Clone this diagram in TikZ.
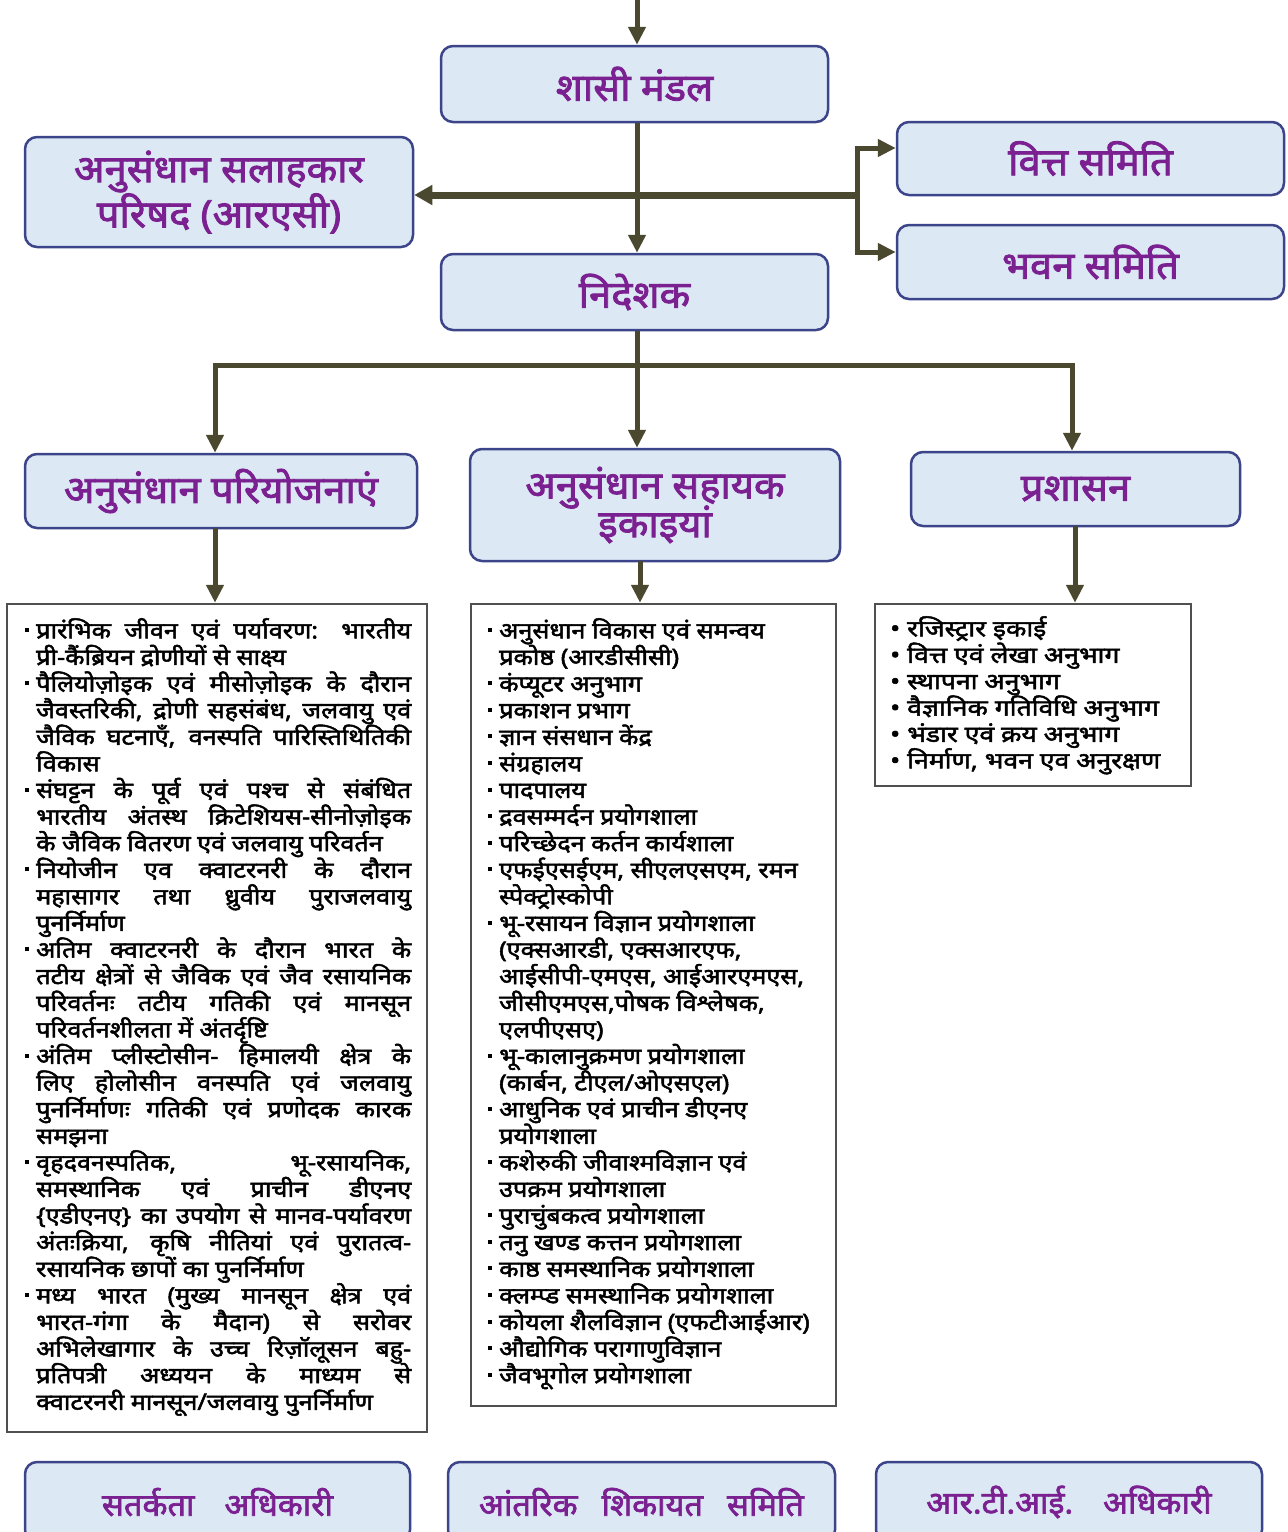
\documentclass[tikz,border=0pt]{standalone}
\usepackage{fontspec}
\setmainfont{Noto Sans}
\newfontfamily\devh[Script=Devanagari,FakeBold=2.2,FakeStretch=1.05]{Noto Sans}
\newfontfamily\devl[Script=Devanagari,FakeBold=2.2,FakeStretch=1.12]{Noto Sans}
\newfontfamily\devr[Script=Devanagari,FakeBold=2.2,FakeStretch=1.18]{Noto Sans}
\usetikzlibrary{arrows.meta}
\definecolor{boxfill}{HTML}{DCE8F4}
\definecolor{boxline}{HTML}{3C4589}
\definecolor{headtxt}{HTML}{7B2090}
\definecolor{arrcol}{HTML}{4A4930}
\definecolor{listline}{HTML}{505050}
\newcommand{\itm}[1]{\par\noindent\hangindent=11pt\hangafter=1\makebox[11pt][l]{\rule[0.28em]{4pt}{4pt}}#1}
\newcommand{\ritm}[1]{\par\noindent\makebox[17pt][l]{•}#1}
\begin{document}
\begin{tikzpicture}[x=1pt,y=-1pt,
  hbox/.style={draw=boxline,line width=2.5pt,fill=boxfill,rounded corners=12pt,
    font=\devh\fontsize{38}{40}\selectfont,text=headtxt,align=center,inner sep=0pt},
  bbox/.style={hbox,font=\devh\fontsize{31}{36}\selectfont},
  lbox/.style={draw=listline,line width=2.5pt,fill=white,inner sep=0pt},
  conn/.style={draw=arrcol,line width=5pt},
  arr/.style={conn,-{Triangle[length=18pt,width=17pt]}},
  ltext/.style={anchor=north west,inner sep=0pt,text=black}
]
\useasboundingbox (0,0) rectangle (1288,1532);
\clip (0,0) rectangle (1288,1532);
\fill[white] (0,0) rectangle (1288,1532);

% header boxes
\node[hbox,minimum width=387pt,minimum height=76pt] (shasi) at (634.5,84) {शासी मंडल};
\node[hbox,minimum width=388pt,minimum height=110pt] (rac) at (219,192) {अनुसंधान सलाहकार\\परिषद (आरएसी)};
\node[hbox,minimum width=387pt,minimum height=73pt] (vitt) at (1090.5,158.5) {वित्त समिति};
\node[hbox,minimum width=387pt,minimum height=74pt] (bhavan) at (1090.5,262) {भवन समिति};
\node[hbox,minimum width=387pt,minimum height=76pt] (nid) at (634.5,292) {निदेशक};

\node[hbox,minimum width=392pt,minimum height=74pt] (proj) at (221,491) {अनुसंधान परियोजनाएं};
\node[hbox,minimum width=370pt,minimum height=112pt] (sah) at (655,505) {अनुसंधान सहायक\\[-4pt]इकाइयां};
\node[hbox,minimum width=329pt,minimum height=74pt] (pras) at (1075.5,489) {प्रशासन};

% bottom boxes
\node[bbox,minimum width=385pt,minimum height=80pt] (sat) at (217.5,1502) {सतर्कता\hspace{30pt}अधिकारी};
\node[bbox,minimum width=387pt,minimum height=80pt] (ant) at (641.5,1502) {आंतरिक\hspace{24pt}शिकायत\hspace{24pt}समिति};
\node[bbox,minimum width=386pt,minimum height=80pt] (rti) at (1069,1502) {आर.टी.आई.\hspace{30pt}अधिकारी};

% list boxes
\node[lbox,minimum width=420pt,minimum height=828pt] (lbl) at (217,1018) {};
\node[lbox,minimum width=365pt,minimum height=802pt] (lbm) at (653.5,1005) {};
\node[lbox,minimum width=316pt,minimum height=182pt] (lbr) at (1033,695) {};

% connectors top
\coordinate (top) at (637,0);
\draw[arr] (top) -- (top |- shasi.north);
\draw[arr] (top |- shasi.south) -- (top |- nid.north);
\coordinate (j) at (857,195);
\draw[conn,line width=7pt,-{Triangle[length=18pt,width=19pt]}] (j) -- (j -| rac.east);
\coordinate (v1) at (857,148);
\coordinate (v2) at (857,252);
\draw[conn] (v1) -- (v2);
\draw[arr] ([xshift=-2.5pt]v1) -- (v1 -| vitt.west);
\draw[arr] ([xshift=-2.5pt]v2) -- (v2 -| bhavan.west);

% connectors director
\coordinate (bj) at (637,365);
\coordinate (bl) at (215,365);
\coordinate (br) at (1072,365);
\draw[conn] (top |- nid.south) -- (bj);
\draw[conn] ([xshift=-2.5pt]bl) -- ([xshift=2.5pt]br);
\draw[arr] (bl) -- (bl |- proj.north);
\draw[arr] (bj) -- (bj |- sah.north);
\draw[arr] (br) -- (br |- pras.north);

% to lists
\coordinate (d1) at (215,528);
\coordinate (d2) at (640,561);
\coordinate (d3) at (1075,526);
\draw[arr] (d1) -- (d1 |- lbl.north);
\draw[arr] (d2) -- (d2 |- lbm.north);
\draw[arr] (d3) -- (d3 |- lbr.north);

% left list text
\node[ltext] (tl) at (25,618) {\parbox{386pt}{\devl\fontsize{22.5}{26.6}\selectfont\lineskiplimit=-100pt\sloppy
\itm{प्रारंभिक जीवन एवं पर्यावरण: भारतीय\linebreak प्री-कैंब्रियन द्रोणीयों से साक्ष्य}
\itm{पैलियोज़ोइक एवं मीसोज़ोइक के दौरान\linebreak जैवस्तरिकी, द्रोणी सहसंबंध, जलवायु एवं\linebreak जैविक घटनाएँ, वनस्पति पारिस्तिथितिकी\linebreak विकास}
\itm{संघट्टन के पूर्व एवं पश्च से संबंधित\linebreak भारतीय अंतस्थ क्रिटेशियस-सीनोज़ोइक\linebreak के जैविक वितरण एवं जलवायु परिवर्तन}
\itm{नियोजीन एव क्वाटरनरी के दौरान\linebreak महासागर तथा ध्रुवीय पुराजलवायु\linebreak पुनर्निर्माण}
\itm{अतिम क्वाटरनरी के दौरान भारत के\linebreak तटीय क्षेत्रों से जैविक एवं जैव रसायनिक\linebreak परिवर्तनः तटीय गतिकी एवं मानसून\linebreak परिवर्तनशीलता में अंतर्दृष्टि}
\itm{अंतिम प्लीस्टोसीन- हिमालयी क्षेत्र के\linebreak लिए होलोसीन वनस्पति एवं जलवायु\linebreak पुनर्निर्माणः गतिकी एवं प्रणोदक कारक\linebreak समझना}
\itm{वृहदवनस्पतिक, भू-रसायनिक,\linebreak समस्थानिक एवं प्राचीन डीएनए\linebreak \{एडीएनए\} का उपयोग से मानव-पर्यावरण\linebreak अंतःक्रिया, कृषि नीतियां एवं पुरातत्व-\linebreak रसायनिक छापों का पुनर्निर्माण}
\itm{मध्य भारत (मुख्य मानसून क्षेत्र एवं\linebreak भारत-गंगा के मैदान) से सरोवर\linebreak अभिलेखागार के उच्च रिज़ॉलूसन बहु-\linebreak प्रतिपत्री अध्ययन के माध्यम से\linebreak क्वाटरनरी मानसून/जलवायु पुनर्निर्माण}
}};

% middle list text
\node[ltext] (tm) at (488,618) {\parbox{345pt}{\raggedright\devl\fontsize{22.5}{26.6}\selectfont\lineskiplimit=-100pt
\itm{अनुसंधान विकास एवं समन्वय\newline प्रकोष्ठ (आरडीसीसी)}
\itm{कंप्यूटर अनुभाग}
\itm{प्रकाशन प्रभाग}
\itm{ज्ञान संसधान केंद्र}
\itm{संग्रहालय}
\itm{पादपालय}
\itm{द्रवसम्मर्दन प्रयोगशाला}
\itm{परिच्छेदन कर्तन कार्यशाला}
\itm{एफईएसईएम, सीएलएसएम, रमन\newline स्पेक्ट्रोस्कोपी}
\itm{भू-रसायन विज्ञान प्रयोगशाला\newline (एक्सआरडी, एक्सआरएफ,\newline आईसीपी-एमएस, आईआरएमएस,\newline जीसीएमएस,पोषक विश्लेषक,\newline एलपीएसए)}
\itm{भू-कालानुक्रमण प्रयोगशाला\newline (कार्बन, टीएल/ओएसएल)}
\itm{आधुनिक एवं प्राचीन डीएनए\newline प्रयोगशाला}
\itm{कशेरुकी जीवाश्मविज्ञान एवं\newline उपक्रम प्रयोगशाला}
\itm{पुराचुंबकत्व प्रयोगशाला}
\itm{तनु खण्ड कत्तन प्रयोगशाला}
\itm{काष्ठ समस्थानिक प्रयोगशाला}
\itm{क्लम्प्ड समस्थानिक प्रयोगशाला}
\itm{कोयला शैलविज्ञान (एफटीआईआर)}
\itm{औद्योगिक परागाणुविज्ञान}
\itm{जैवभूगोल प्रयोगशाला}
}};

% right list text
\node[ltext] (tr) at (890,616) {\parbox{298pt}{\raggedright\devr\fontsize{22.5}{26.4}\selectfont\lineskiplimit=-100pt
\ritm{रजिस्ट्रार इकाई}
\ritm{वित्त एवं लेखा अनुभाग}
\ritm{स्थापना अनुभाग}
\ritm{वैज्ञानिक गतिविधि अनुभाग}
\ritm{भंडार एवं क्रय अनुभाग}
\ritm{निर्माण, भवन एव अनुरक्षण}
}};
\end{tikzpicture}
\end{document}
